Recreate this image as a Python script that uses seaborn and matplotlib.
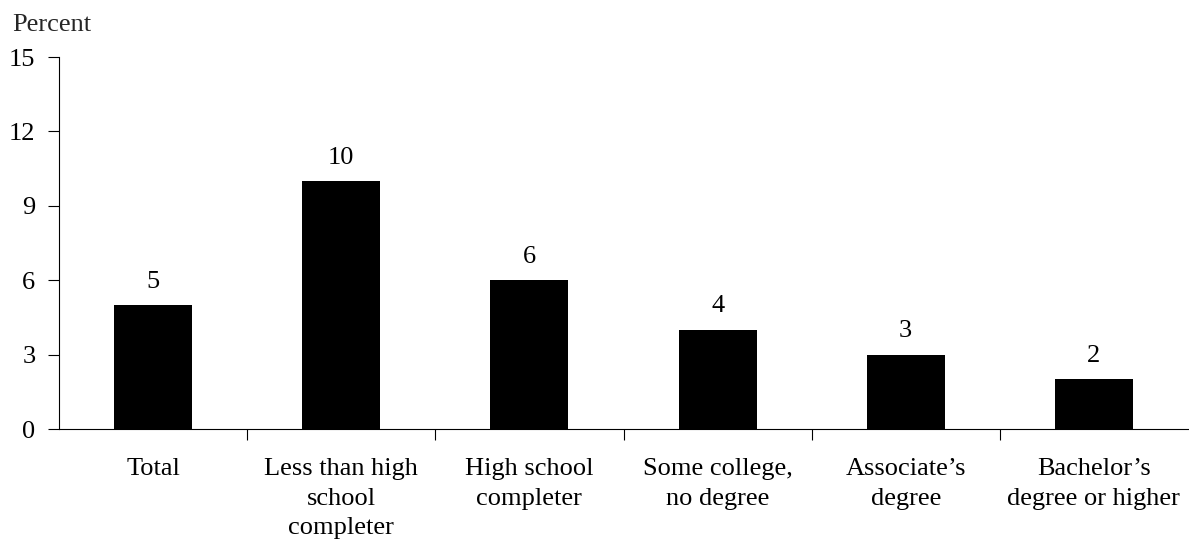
import matplotlib
matplotlib.use("Agg")
import matplotlib.pyplot as plt
import seaborn as sns
import pandas as pd
import numpy as np

categories = [
    "Total",
    "Less than high\nschool\ncompleter",
    "High school\ncompleter",
    "Some college,\nno degree",
    "Associate\u2019s\ndegree",
    "Bachelor\u2019s\ndegree or higher",
]
percent = [5, 10, 6, 4, 3, 2]
y_ticks = [0, 3, 6, 9, 12, 15]

sns.set_theme(style="white")
plt.rcParams["font.family"] = ["Liberation Serif", "DejaVu Serif"]
plt.rcParams["font.size"] = 19

df = pd.DataFrame({"category": categories, "percent": percent})

fig = plt.figure(figsize=(11.89, 5.48), dpi=100)
ax = fig.add_axes([59 / 1189, 119 / 548, 1129 / 1189, 372 / 548])

sns.barplot(data=df, x="category", y="percent", color="black",
            saturation=1, width=0.415, edgecolor="black", linewidth=0, ax=ax)

# value labels above bars
ax.bar_label(ax.containers[0], labels=[str(v) for v in percent],
             padding=9, fontsize=19, color="black")

ax.set_ylim(0, 15)
ax.set_yticks(y_ticks)
ax.set_xlim(-0.5, len(categories) - 0.5)
ax.set_xlabel("")
ax.set_ylabel("")

# x ticks sit between categories, labels centred under bars
ax.set_xticks(np.arange(len(categories)))
ax.set_xticklabels(categories, fontsize=19, linespacing=1.45)
ax.set_xticks(np.arange(len(categories) - 1) + 0.5, minor=True)
ax.tick_params(axis="x", which="major", length=0, pad=21, colors="black")
ax.tick_params(axis="x", which="minor", length=8, width=0.8,
               direction="out", bottom=True, color="black")
ax.tick_params(axis="y", length=8, width=0.8, direction="out", left=True,
               pad=9, labelsize=19, colors="black")

for side in ["top", "right"]:
    ax.spines[side].set_visible(False)
for side in ["left", "bottom"]:
    ax.spines[side].set_color("black")
    ax.spines[side].set_linewidth(0.8)

fig.text(12 / 1189, 1 - 31 / 548, "Percent", fontsize=19, va="baseline",
         ha="left")

fig.savefig("out.png", dpi=100)
